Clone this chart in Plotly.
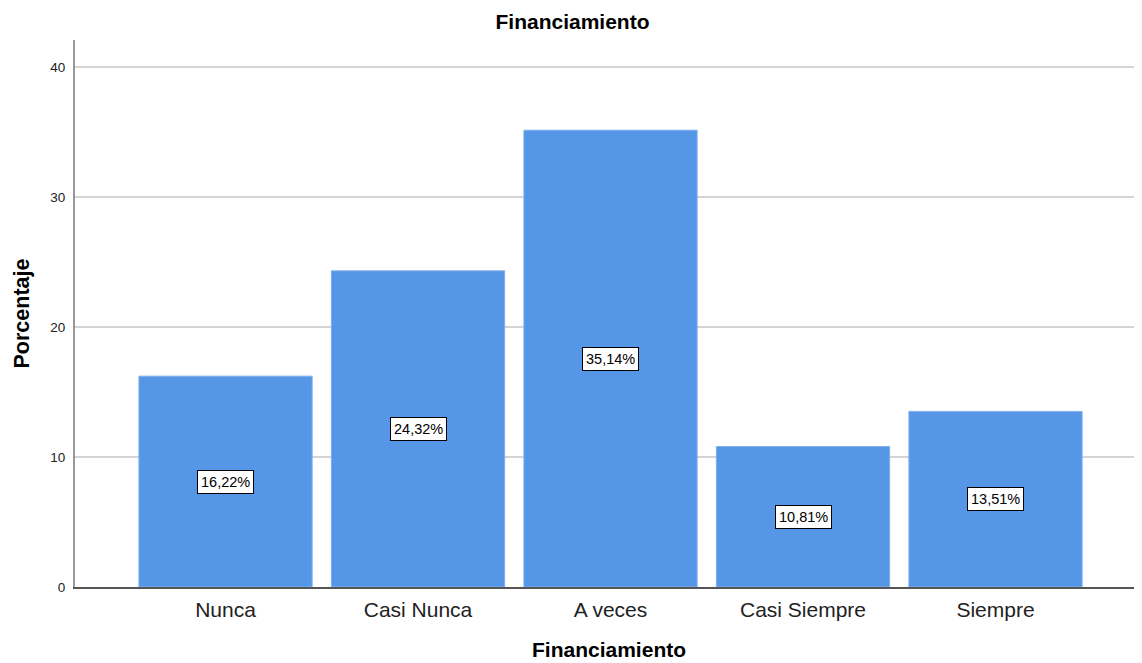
import plotly.graph_objects as go

categories = ["Nunca", "Casi Nunca", "A veces", "Casi Siempre", "Siempre"]
values = [16.22, 24.32, 35.14, 10.81, 13.51]
labels = ["16,22%", "24,32%", "35,14%", "10,81%", "13,51%"]
y_ticks = [0, 10, 20, 30, 40]

FONT = "Liberation Sans, Arial"
W, H = 1134, 655
L, R, T, B = 67, 0, 32, 76
plot_w = W - L - R
plot_h = H - T - B

fig = go.Figure()
fig.add_trace(go.Bar(
    x=list(range(len(categories))), y=values,
    marker=dict(color="#5596E6", line=dict(color="#7fb0ee", width=1)),
    hoverinfo="skip",
))

for i, (v, lab) in enumerate(zip(values, labels)):
    fig.add_annotation(
        x=i, y=v / 2, text=lab, showarrow=False,
        font=dict(family=FONT, size=14.5, color="black"),
        bgcolor="white", bordercolor="black", borderwidth=1, borderpad=3,
    )

# axis titles
fig.add_annotation(
    xref="paper", yref="paper", x=0.5, y=-(642 - (H - B)) / plot_h,
    text="<b>Financiamiento</b>", showarrow=False,
    xanchor="center", yanchor="middle",
    font=dict(family=FONT, size=21, color="black"),
)
fig.add_annotation(
    xref="paper", yref="paper", x=-(L - 13) / plot_w, y=0.5,
    text="<b>Porcentaje</b>", showarrow=False, textangle=-90,
    xanchor="center", yanchor="middle",
    font=dict(family=FONT, size=21.5, color="black"),
)

fig.update_layout(
    width=W, height=H,
    margin=dict(l=L, r=R, t=T, b=B),
    paper_bgcolor="white", plot_bgcolor="white",
    bargap=0.1,
    showlegend=False,
    font=dict(family=FONT, color="black"),
    title=dict(text="<b>Financiamiento</b>", x=564.5 / W, xanchor="center",
               y=1 - 14 / H, yanchor="middle",
               font=dict(size=21, family=FONT, color="black")),
    xaxis=dict(
        range=[-0.782, 4.761],
        tickvals=list(range(len(categories))), ticktext=categories,
        tickfont=dict(size=21, color="#222"),
        showgrid=False, zeroline=False,
        showline=True, linecolor="#555", linewidth=1.5,
        ticks="outside", ticklen=3, tickcolor="white",
    ),
    yaxis=dict(
        range=[0, 42.08],
        tickvals=y_ticks,
        tickfont=dict(size=13.5, color="#222"),
        showgrid=True, gridcolor="#d4d4d4", gridwidth=1.5,
        zeroline=False,
        showline=True, linecolor="#999", linewidth=2,
        ticks="outside", ticklen=5, tickcolor="white",
    ),
)

fig.write_html("out.html")
